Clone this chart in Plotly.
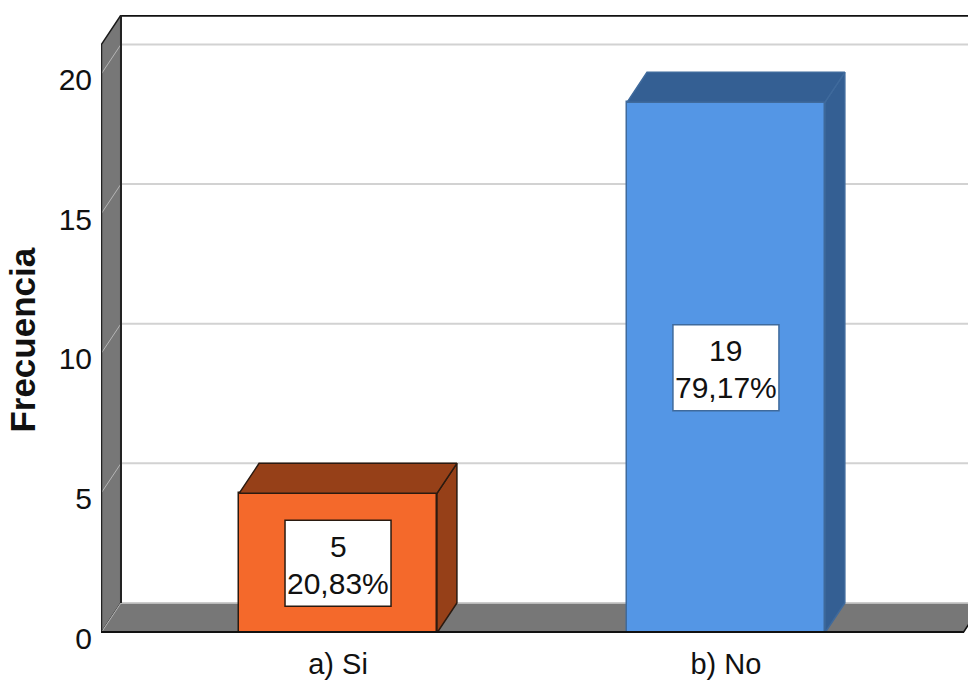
import plotly.graph_objects as go

categories = ["a) Si", "b) No"]
counts = [5, 19]
percents = ["20,83%", "79,17%"]
front_colors = ["#F4692B", "#5496E5"]
side_colors = ["#964018", "#345F93"]
edge_colors = ["#2a1a10", "#3f6a9c"]
y_ticks = [0, 5, 10, 15, 20]

positions = list(range(len(categories)))
BAR_W = 0.51
DX, DY = 0.0515, 1.074
X0, X1 = -0.611, 1.624
Y1 = 22.127
FLOOR_END = 1.611
FONT = "Liberation Sans, Arial, sans-serif"
GREY = "#777777"

fig = go.Figure()

# front faces
fig.add_trace(go.Bar(x=positions, y=counts, width=BAR_W,
                     marker=dict(color=front_colors, line=dict(color=edge_colors, width=1.5)),
                     hoverinfo="skip", showlegend=False))

# side and top faces
for p, v, sc, ec in zip(positions, counts, side_colors, edge_colors):
    l, r = p - BAR_W / 2, p + BAR_W / 2
    fig.add_trace(go.Scatter(x=[r, r + DX, r + DX, r, r], y=[0, DY, v + DY, v, 0], mode="lines",
                             fill="toself", fillcolor=sc, line=dict(color=ec, width=1.5),
                             hoverinfo="skip", showlegend=False))
    fig.add_trace(go.Scatter(x=[l, l + DX, r + DX, r, l], y=[v, v + DY, v + DY, v, v], mode="lines",
                             fill="toself", fillcolor=sc, line=dict(color=ec, width=1.5),
                             hoverinfo="skip", showlegend=False))

shapes = []
# left wall and floor (below the bars)
shapes.append(dict(type="path", layer="below", xref="x", yref="y",
                   path=f"M{X0},0 L{X0},{Y1 - DY} L{X0 + DX},{Y1} L{X0 + DX},{DY} Z",
                   fillcolor=GREY, line=dict(color="#1a1a1a", width=1.5)))
shapes.append(dict(type="path", layer="below", xref="x", yref="y",
                   path=f"M{X0},0 L{FLOOR_END},0 L{FLOOR_END + DX},{DY} L{X0 + DX},{DY} Z",
                   fillcolor=GREY, line=dict(color=GREY, width=1)))
# gridlines on wall and back
for t in y_ticks:
    shapes.append(dict(type="line", layer="below", xref="x", yref="y",
                       x0=X0 + DX, x1=X1, y0=t + DY, y1=t + DY,
                       line=dict(color="#d2d2d2", width=2 if t > 0 else 1.5)))
    shapes.append(dict(type="line", layer="below", xref="x", yref="y",
                       x0=X0, x1=X0 + DX, y0=t, y1=t + DY,
                       line=dict(color="#b5b5b5", width=1)))
# top edge, wall edges, front floor edge
shapes.append(dict(type="line", layer="below", xref="x", yref="y", x0=X0 + DX, x1=X1, y0=Y1, y1=Y1,
                   line=dict(color="#111111", width=3.5)))
shapes.append(dict(type="line", layer="below", xref="x", yref="y", x0=X0, x1=X0, y0=0, y1=Y1 - DY,
                   line=dict(color="#222222", width=2.5)))
shapes.append(dict(type="line", layer="below", xref="x", yref="y", x0=X0 + DX, x1=X0 + DX, y0=DY, y1=Y1,
                   line=dict(color="#222222", width=2)))
shapes.append(dict(type="line", layer="below", xref="x", yref="y", x0=FLOOR_END, x1=FLOOR_END + DX, y0=0, y1=DY,
                   line=dict(color="#111111", width=1.5)))
shapes.append(dict(type="line", layer="above", xref="x", yref="y", x0=X0, x1=FLOOR_END, y0=0, y1=0,
                   line=dict(color="#111111", width=4)))

annotations = []
for p, v, pct, ec in zip(positions, counts, percents, edge_colors):
    shapes.append(dict(type="rect", layer="above", xref="x", yref="y",
                       xsizemode="pixel", ysizemode="pixel", xanchor=p, yanchor=v / 2,
                       x0=-53, x1=53, y0=-43, y1=43, fillcolor="white",
                       line=dict(color=ec, width=1.5)))
    annotations.append(dict(x=p, y=v / 2, xref="x", yref="y", text=str(v), showarrow=False,
                            yshift=17, font=dict(family=FONT, size=30, color="#111111")))
    annotations.append(dict(x=p, y=v / 2, xref="x", yref="y", text=pct, showarrow=False,
                            yshift=-20, font=dict(family=FONT, size=30, color="#111111")))

annotations.append(dict(text="<b>Frecuencia</b>", xref="paper", yref="paper", x=-0.0905, y=0.474,
                        xanchor="center", yanchor="middle", textangle=-90, showarrow=False,
                        font=dict(family=FONT, size=35, color="#111111")))

fig.update_layout(
    width=968, height=682, autosize=False,
    margin=dict(l=101, r=0, t=15, b=49),
    paper_bgcolor="white", plot_bgcolor="white",
    shapes=shapes, annotations=annotations, bargap=0,
    xaxis=dict(range=[X0, X1], tickmode="array", tickvals=positions, ticktext=categories,
               showgrid=False, zeroline=False, showline=False, ticks="", ticklabelstandoff=11,
               tickfont=dict(family=FONT, size=29, color="#111111"), fixedrange=True),
    yaxis=dict(range=[0, Y1], tickmode="array", tickvals=y_ticks, showgrid=False, zeroline=False,
               showline=False, ticks="", ticklabelstandoff=8, ticklabelshift=5,
               tickfont=dict(family=FONT, size=30, color="#111111"), fixedrange=True),
)

fig.write_html("out.html", config={"displayModeBar": False},
               post_script="document.body.style.margin='0';document.documentElement.style.overflow='hidden';")
